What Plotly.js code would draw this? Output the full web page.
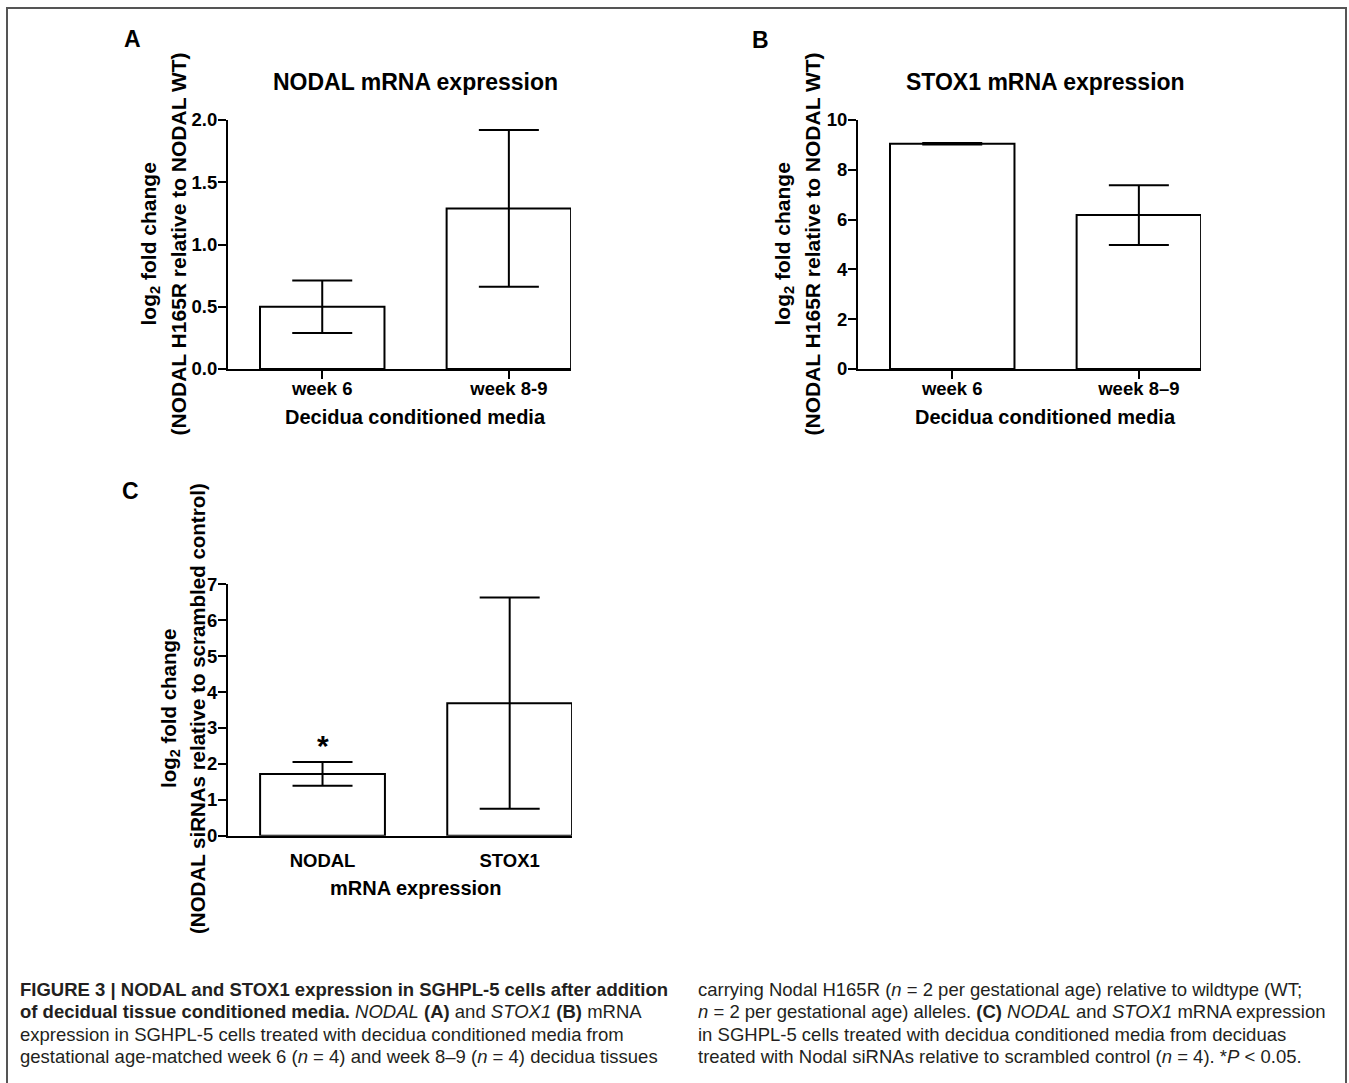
<!DOCTYPE html>
<html>
<head>
<meta charset="utf-8">
<script src="https://cdn.plot.ly/plotly-3.0.1.min.js"></script>
<style>html,body{margin:0;padding:0;background:#fff;}#chart{width:1349px;height:1083px;}</style>
</head>
<body>
<div id="chart"></div>
<script>
// ---- data ----
const catsA = ['week 6', 'week 8-9'];
const nodalMean = [0.50, 1.29];
const nodalErr = [0.21, 0.63];

const catsB = ['week 6', 'week 8–9'];
const stoxMean = [9.05, 6.18];
const stoxErr = [0.03, 1.20];

const catsC = ['NODAL', 'STOX1'];
const sirnaMean = [1.72, 3.69];
const sirnaErr = [0.33, 2.94];

const yTicksA = [0, 0.5, 1.0, 1.5, 2.0];
const yTicksB = [0, 2, 4, 6, 8, 10];
const yTicksC = [0, 1, 2, 3, 4, 5, 6, 7];

const panelTitles = ['NODAL mRNA expression', 'STOX1 mRNA expression'];
const xTitles = ['Decidua conditioned media', 'Decidua conditioned media', 'mRNA expression'];
const yTitleLine1 = 'log<sub>2</sub> fold change';
const yTitleLine2 = [
  '(NODAL H165R relative to NODAL WT)',
  '(NODAL H165R relative to NODAL WT)',
  '(NODAL siRNAs relative to scrambled control)'
];
const panelLetters = ['A', 'B', 'C'];
const captionLeft = [
  '<b>FIGURE 3 | NODAL and STOX1 expression in SGHPL-5 cells after addition</b>',
  '<b>of decidual tissue conditioned media.</b> <i>NODAL</i> <b>(A)</b> and <i>STOX1</i> <b>(B)</b> mRNA',
  'expression in SGHPL-5 cells treated with decidua conditioned media from',
  'gestational age-matched week 6 (<i>n</i> = 4) and week 8–9 (<i>n</i> = 4) decidua tissues'
];
const captionRight = [
  'carrying Nodal H165R (<i>n</i> = 2 per gestational age) relative to wildtype (WT;',
  '<i>n</i> = 2 per gestational age) alleles. <b>(C)</b> <i>NODAL</i> and <i>STOX1</i> mRNA expression',
  'in SGHPL-5 cells treated with decidua conditioned media from deciduas',
  'treated with Nodal siRNAs relative to scrambled control (<i>n</i> = 4). *<i>P</i> &lt; 0.05.'
];

// ---- helpers ----
const W = 1349, H = 1083;
const px = v => v / W;
const py = v => 1 - v / H;
const FONT = 'Liberation Sans, Arial, Helvetica, sans-serif';
const BOLD = (size) => ({family: FONT, size: size, color: '#000', weight: 'bold'});

function barTrace(x, y, err, xa, ya) {
  return {
    type: 'bar', x: x, y: y, xaxis: xa, yaxis: ya,
    width: x.map(() => 0.667),
    marker: {color: '#ffffff', line: {color: '#000', width: 2}},
    error_y: {type: 'data', array: err, visible: true, color: '#000', thickness: 2, width: 30},
    hoverinfo: 'skip', showlegend: false
  };
}

function xAxis(domain, anchor, showTicks) {
  return {
    domain: domain, anchor: anchor, type: 'category', range: [-0.505, 1.333],
    showline: true, linecolor: '#000', linewidth: 2, mirror: false,
    ticks: 'outside', ticklen: 8, tickwidth: 2,
    tickcolor: showTicks ? '#000' : 'rgba(0,0,0,0)',
    ticklabelstandoff: showTicks ? -6 : -1,
    tickfont: BOLD(18.5), showgrid: false, zeroline: false, fixedrange: true
  };
}
function yAxis(domain, anchor, range, vals, fmt) {
  return {
    domain: domain, anchor: anchor, range: range,
    tickmode: 'array', tickvals: vals, tickformat: fmt,
    showline: true, linecolor: '#000', linewidth: 2,
    ticks: 'outside', ticklen: 8, tickwidth: 2, tickcolor: '#000',
    ticklabelstandoff: -3,
    tickfont: BOLD(18.5), showgrid: false, zeroline: false, fixedrange: true
  };
}

const data = [
  barTrace(catsA, nodalMean, nodalErr, 'x', 'y'),
  barTrace(catsB, stoxMean, stoxErr, 'x2', 'y2'),
  barTrace(catsC, sirnaMean, sirnaErr, 'x3', 'y3')
];

const annotations = [];
function ann(o) { annotations.push(Object.assign({showarrow: false, xanchor: 'center', yanchor: 'middle'}, o)); }
// panel titles
ann({xref: 'x', yref: 'paper', x: 0.5, y: py(82), text: panelTitles[0], font: BOLD(23)});
ann({xref: 'x2', yref: 'paper', x: 0.5, y: py(82), text: panelTitles[1], font: BOLD(23)});
// x titles
ann({xref: 'x', yref: 'paper', x: 0.5, y: py(417), text: xTitles[0], font: BOLD(20)});
ann({xref: 'x2', yref: 'paper', x: 0.5, y: py(417), text: xTitles[1], font: BOLD(20)});
ann({xref: 'x3', yref: 'paper', x: 0.5, y: py(888), text: xTitles[2], font: BOLD(20)});
// y titles (two lines each, rotated)
[[150, 178, 244.5, 21], [784, 812, 244.5, 21], [170, 197, 709, 20.5]].forEach((p, i) => {
  ann({xref: 'paper', yref: 'paper', x: px(p[0]), y: py(p[2]), text: yTitleLine1, textangle: -90, font: BOLD(p[3])});
  ann({xref: 'paper', yref: 'paper', x: px(p[1]), y: py(p[2]), text: yTitleLine2[i], textangle: -90, font: BOLD(p[3])});
});
// panel letters
[[132, 39], [760, 40], [130, 491]].forEach((p, i) => {
  ann({xref: 'paper', yref: 'paper', x: px(p[0]), y: py(p[1]), text: panelLetters[i], font: BOLD(23)});
});
// significance asterisk
ann({xref: 'x3', yref: 'y3', x: catsC[0], y: sirnaMean[0] + sirnaErr[0], yanchor: 'bottom', yshift: -2, text: '*', font: BOLD(30)});
// caption
const capFont = {family: FONT, size: 18.5, color: '#231f20'};
const capY = [989, 1011.5, 1034, 1056];
captionLeft.forEach((t, i) => ann({xref: 'paper', yref: 'paper', x: px(18), y: py(capY[i]), text: t, font: capFont, xanchor: 'left', align: 'left'}));
captionRight.forEach((t, i) => ann({xref: 'paper', yref: 'paper', x: px(696), y: py(capY[i]), text: t, font: capFont, xanchor: 'left', align: 'left'}));

const layout = {
  width: W, height: H,
  margin: {l: 0, r: 0, t: 0, b: 0, pad: 0},
  paper_bgcolor: '#ffffff', plot_bgcolor: 'rgba(0,0,0,0)',
  font: {family: FONT, color: '#000'},
  showlegend: false, hovermode: false,
  xaxis: xAxis([px(228), px(571)], 'y', true),
  yaxis: yAxis([py(369), py(120)], 'x', [0, 2], yTicksA, '.1f'),
  xaxis2: xAxis([px(858), px(1201)], 'y2', true),
  yaxis2: yAxis([py(369), py(120)], 'x2', [0, 10], yTicksB, 'd'),
  xaxis3: xAxis([px(228), px(572)], 'y3', false),
  yaxis3: yAxis([py(835.7), py(584.3)], 'x3', [0, 7], yTicksC, 'd'),
  annotations: annotations,
  shapes: [{type: 'rect', xref: 'paper', yref: 'paper', x0: px(7), x1: px(1346), y0: -0.05, y1: py(8), line: {color: '#555', width: 2}, fillcolor: 'rgba(0,0,0,0)', layer: 'above'}]
};

Plotly.newPlot('chart', data, layout, {displayModeBar: false, staticPlot: true});
</script>
</body>
</html>
